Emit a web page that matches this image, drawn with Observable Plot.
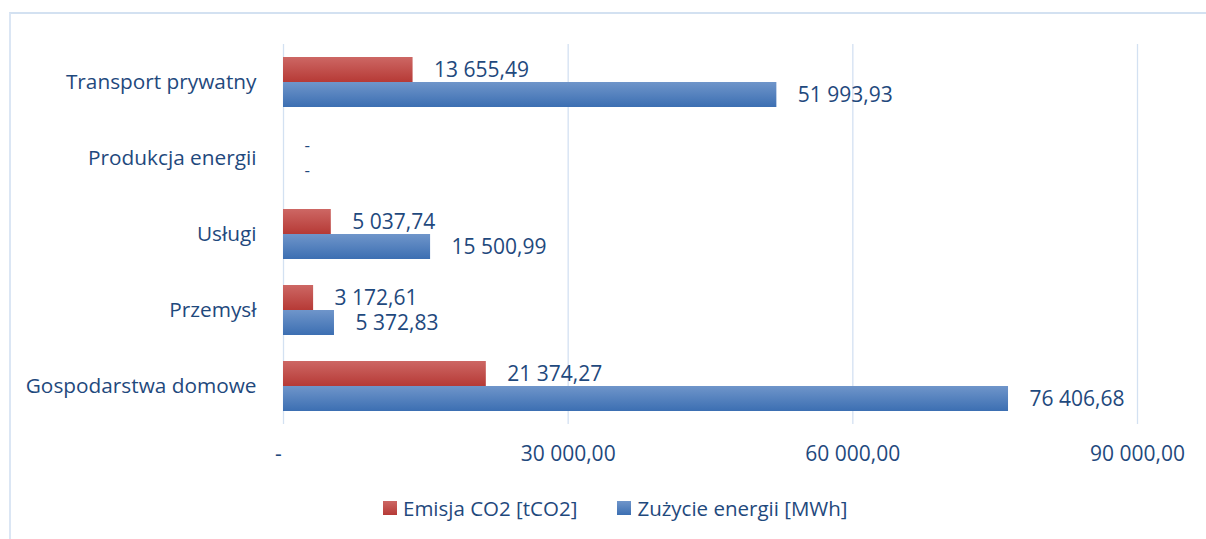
<!DOCTYPE html>
<html>
<head>
<meta charset="utf-8">
<script src="https://cdn.jsdelivr.net/npm/d3@7"></script>
<script src="https://cdn.jsdelivr.net/npm/@observablehq/plot@0.6"></script>
<style>
  html, body { margin: 0; padding: 0; background: #fff; }
  body { width: 1206px; height: 539px; overflow: hidden; position: relative; font-family: "Open Sans", sans-serif; }
  #frame { position: absolute; left: 9px; top: 12px; width: 1210px; height: 540px;
           border-left: 2px solid #dbe6f4; border-top: 2px solid #d3e1f1; }
  #legend { position: absolute; left: 372px; top: 480px; height: 28px; line-height: 28px;
            display: flex; align-items: center; font-size: 20.5px; color: #1F497D; white-space: nowrap; }
  .item { display: flex; align-items: center; }
  .sw { width: 14px; height: 14px; display: inline-block; margin-right: 6px; }
</style>
</head>
<body>
<div id="frame">
  <div id="chart"></div>
  <div id="legend"></div>
</div>
<script>
const categories = ["Transport prywatny", "Produkcja energii", "Usługi", "Przemysł", "Gospodarstwa domowe"];
const seriesNames = ["Emisja CO2 [tCO2]", "Zużycie energii [MWh]"];
const emisja = [13655.49, 0, 5037.74, 3172.61, 21374.27];
const zuzycie = [51993.93, 0, 15500.99, 5372.83, 76406.68];
const xTicks = [0, 30000, 60000, 90000];

const textColor = "#1F497D";
const locale = d3.formatLocale({decimal: ",", thousands: "\u00a0", grouping: [3], currency: ["", ""]});
const f2 = locale.format(",.2f");
const fmt = v => v === 0 ? "-" : f2(v);

const rows = [];
categories.forEach((c, i) => {
  rows.push({cat: c, series: seriesNames[0], value: emisja[i]});
  rows.push({cat: c, series: seriesNames[1], value: zuzycie[i]});
});
const redRows = rows.filter(d => d.series === seriesNames[0]);
const blueRows = rows.filter(d => d.series === seriesNames[1]);
const valueRows = rows.filter(d => d.value !== 0);
const zeroRows = rows.filter(d => d.value === 0);

const chart = Plot.plot({
  width: 1195,
  height: 480,
  marginLeft: 272,
  marginRight: 69,
  marginTop: 28,
  marginBottom: 69,
  style: {fontFamily: "'Open Sans', sans-serif", color: textColor, background: "transparent"},
  x: {domain: [0, 90000]},
  y: {domain: seriesNames, paddingInner: 0, paddingOuter: 0.5, axis: null},
  fy: {domain: categories, padding: 0},
  marks: [
    Plot.ruleX(xTicks, {x: d => d, stroke: "#d3e1f2", strokeWidth: 1.3}),
    Plot.barX(redRows, {x: "value", y: "series", fy: "cat", fill: "url(#gradRed)"}),
    Plot.barX(blueRows, {x: "value", y: "series", fy: "cat", fill: "url(#gradBlue)"}),
    Plot.text(valueRows, {x: "value", y: "series", fy: "cat", text: d => fmt(d.value), dx: 21,
                     textAnchor: "start", fontSize: 21, fill: textColor}),
    Plot.text(zeroRows, {x: "value", y: "series", fy: "cat", text: d => fmt(d.value), dx: 21,
                     textAnchor: "start", fontSize: 17, fill: textColor}),
    Plot.axisFy({anchor: "left", tickSize: 0, tickPadding: 27, fontSize: 20.8, label: null}),
    Plot.axisX({ticks: xTicks, tickFormat: v => v === 0 ? "-\u2002" : f2(v), tickSize: 0,
                tickPadding: 22, fontSize: 21, label: null})
  ]
});

const svg = d3.select(chart);
const defs = svg.insert("defs", ":first-child");
const gr = defs.append("linearGradient").attr("id", "gradRed").attr("x1", 0).attr("y1", 0).attr("x2", 0).attr("y2", 1);
gr.append("stop").attr("offset", "0%").attr("stop-color", "#cd6764");
gr.append("stop").attr("offset", "100%").attr("stop-color", "#b63a36");
const gb = defs.append("linearGradient").attr("id", "gradBlue").attr("x1", 0).attr("y1", 0).attr("x2", 0).attr("y2", 1);
gb.append("stop").attr("offset", "0%").attr("stop-color", "#6f95ca");
gb.append("stop").attr("offset", "100%").attr("stop-color", "#3c6fb2");
document.getElementById("chart").appendChild(chart);

const legend = d3.select("#legend");
const grads = ["linear-gradient(#cd6764, #b63a36)", "linear-gradient(#6f95ca, #3c6fb2)"];
seriesNames.forEach((s, i) => {
  const it = legend.append("div").attr("class", "item").style("margin-right", i === 0 ? "40px" : "0");
  it.append("span").attr("class", "sw").style("background", grads[i]);
  it.append("span").text(s);
});
</script>
</body>
</html>
